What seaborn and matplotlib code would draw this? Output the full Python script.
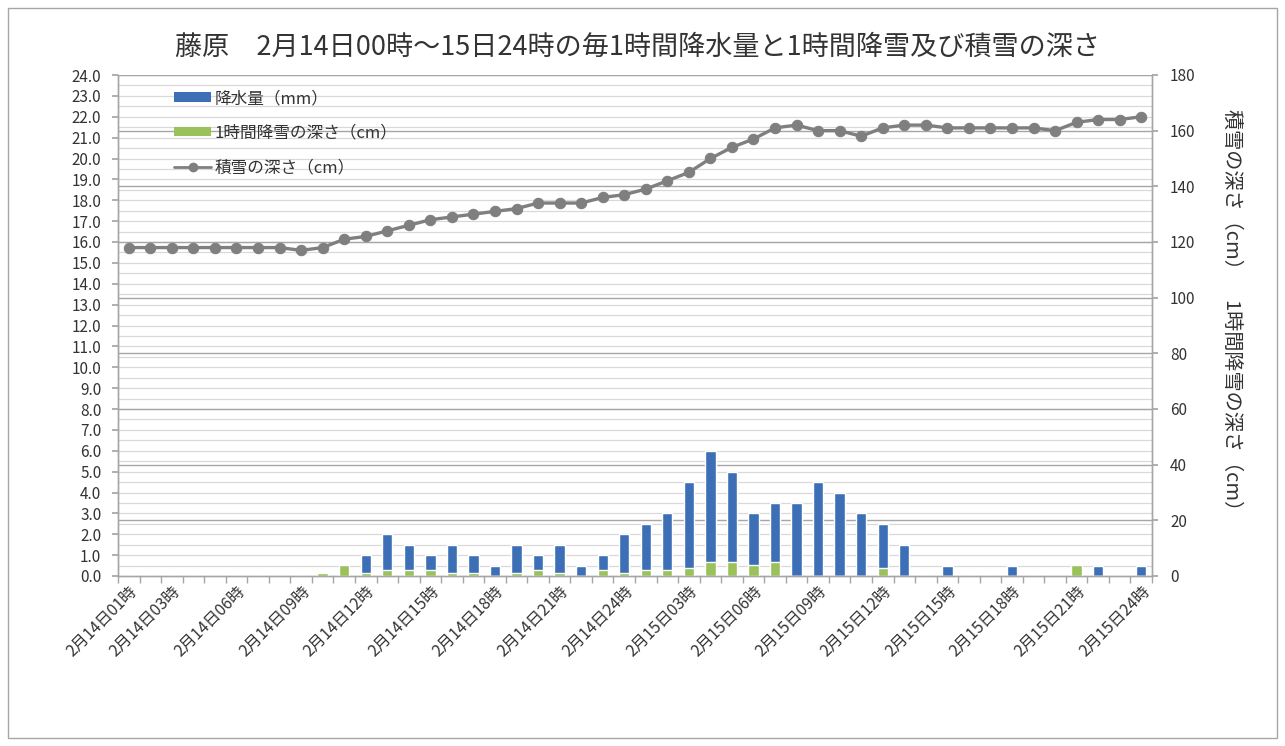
import numpy as np
import pandas as pd
import matplotlib
matplotlib.use("Agg")
import matplotlib.pyplot as plt
from matplotlib.lines import Line2D
from matplotlib.patches import Patch, Rectangle
import seaborn as sns

# --- data (藤原, 2/14 01時 - 2/15 24時) ---
hours = [f"2月14日{h:02d}時" for h in range(1, 25)] + [f"2月15日{h:02d}時" for h in range(1, 25)]

# 降水量 (mm), left axis
precip_mm = [0, 0, 0, 0, 0, 0, 0, 0, 0, 0,
             0.5, 1.0, 2.0, 1.5, 1.0, 1.5, 1.0, 0.5, 1.5, 1.0,
             1.5, 0.5, 1.0, 2.0, 2.5, 3.0, 4.5, 6.0, 5.0, 3.0,
             3.5, 3.5, 4.5, 4.0, 3.0, 2.5, 1.5, 0, 0.5, 0,
             0, 0.5, 0, 0, 0.5, 0.5, 0, 0.5]

# 1時間降雪の深さ (cm), right axis
snowfall_cm = [0, 0, 0, 0, 0, 0, 0, 0, 0, 1,
               4, 1, 2, 2, 2, 1, 1, 0, 1, 2,
               1, 0, 2, 1, 2, 2, 3, 5, 5, 4,
               5, 0, 0, 0, 0, 3, 0, 0, 0, 0,
               0, 0, 0, 0, 4, 0, 0, 0]

# 積雪の深さ (cm), right axis
depth_cm = [118, 118, 118, 118, 118, 118, 118, 118, 117, 118,
            121, 122, 124, 126, 128, 129, 130, 131, 132, 134,
            134, 134, 136, 137, 139, 142, 145, 150, 154, 157,
            161, 162, 160, 160, 158, 161, 162, 162, 161, 161,
            161, 161, 161, 160, 163, 164, 164, 165]

# categories that carry a tick label
label_idx = [0] + list(range(2, 48, 3))

title = "藤原　2月14日00時～15日24時の毎1時間降水量と1時間降雪及び積雪の深さ"
right_label = "積雪の深さ（cm）　1時間降雪の深さ（cm）"

df = pd.DataFrame({"hour": hours, "precip": precip_mm,
                   "snowfall": snowfall_cm, "depth": depth_cm})
df["pos"] = np.arange(len(df))

BLUE = "#3d6fb6"
GREEN = "#9bc25a"
GRAY = "#7f7f7f"
TXT = "#333333"

sns.set_theme(style="white")
plt.rcParams['font.family'] = ['Noto Sans CJK JP', 'DejaVu Sans']

fig, ax = plt.subplots(figsize=(12.85, 7.46), dpi=100)
fig.subplots_adjust(left=118 / 1285, right=1152 / 1285, top=1 - 75 / 746, bottom=1 - 576 / 746)
ax2 = ax.twinx()

# bars
sns.barplot(data=df, x="hour", y="precip", order=hours, color=BLUE, width=0.48,
            saturation=1, ax=ax)
sns.barplot(data=df, x="hour", y="snowfall", order=hours, color=GREEN, width=0.48,
            saturation=1, ax=ax2)
# snow depth line
sns.lineplot(data=df, x="pos", y="depth", color=GRAY, linewidth=2.4, marker="o",
             markersize=7.5, markeredgecolor=GRAY, ax=ax2)

ax.set_xlim(-0.5, 47.5)
ax.set_ylim(0, 24)
ax2.set_ylim(0, 180)

# gridlines: fine every 0.5 on left scale, darker every 20 on right scale
for y in np.arange(0.5, 24.01, 0.5):
    ax.axhline(y, color="#d9d9d9", linewidth=0.9, zorder=0)
for v in range(20, 181, 20):
    ax.axhline(v * 24 / 180, color="#a6a6a6", linewidth=1.0, zorder=0.5)

ax.set_yticks(np.arange(0, 24.01, 1.0))
ax.set_yticklabels([f"{v:.1f}" for v in np.arange(0, 24.01, 1.0)], fontsize=11, color=TXT)
ax2.set_yticks(range(0, 181, 20))
ax2.set_yticklabels([str(v) for v in range(0, 181, 20)], fontsize=11, color=TXT)

ax.set_xticks(label_idx)
ax.set_xticklabels([hours[i] for i in label_idx], rotation=45, ha="right",
                   rotation_mode="anchor", fontsize=11.5, color=TXT)
ax.set_xticks(np.arange(-0.5, 48, 1), minor=True)
ax.tick_params(axis="x", which="major", length=0, pad=5)
ax.tick_params(axis="x", which="minor", length=5, color="#a6a6a6", bottom=True)
ax.tick_params(axis="y", which="major", length=4, color="#a6a6a6", left=True, pad=8)
ax2.tick_params(axis="y", which="major", length=4, color="#a6a6a6", right=True, pad=9)

ax.set_xlabel("")
ax.set_ylabel("")
ax2.set_xlabel("")
ax2.set_ylabel("")

for a in (ax, ax2):
    a.spines["top"].set_visible(False)
    for side in ("left", "right", "bottom"):
        a.spines[side].set_color("#a6a6a6")
        a.spines[side].set_linewidth(1.0)

handles = [Patch(facecolor=BLUE, edgecolor="none"),
           Patch(facecolor=GREEN, edgecolor="none"),
           Line2D([0], [0], color=GRAY, linewidth=2, marker="o", markersize=6)]
labels = ["降水量（mm）", "1時間降雪の深さ（cm）", "積雪の深さ（cm）"]
ax2.legend(handles, labels, loc="upper left", bbox_to_anchor=(0.04, 1.0), frameon=False,
           fontsize=12, labelspacing=1.05, handlelength=2.2, handleheight=0.5,
           handletextpad=0.2, labelcolor=TXT)

fig.suptitle(title, x=0.496, y=1 - 47 / 746, va="center", fontsize=19.5, color=TXT)
fig.text(1232 / 1285, 0.578, right_label, rotation=270, ha="center", va="center",
         fontsize=14.5, color=TXT)

fig.patches.append(Rectangle((8 / 1285, 8 / 746), 1 - 16 / 1285, 1 - 16 / 746,
                             transform=fig.transFigure, fill=False,
                             edgecolor="#a6a6a6", linewidth=1.0))

fig.savefig("out.png", dpi=100)
